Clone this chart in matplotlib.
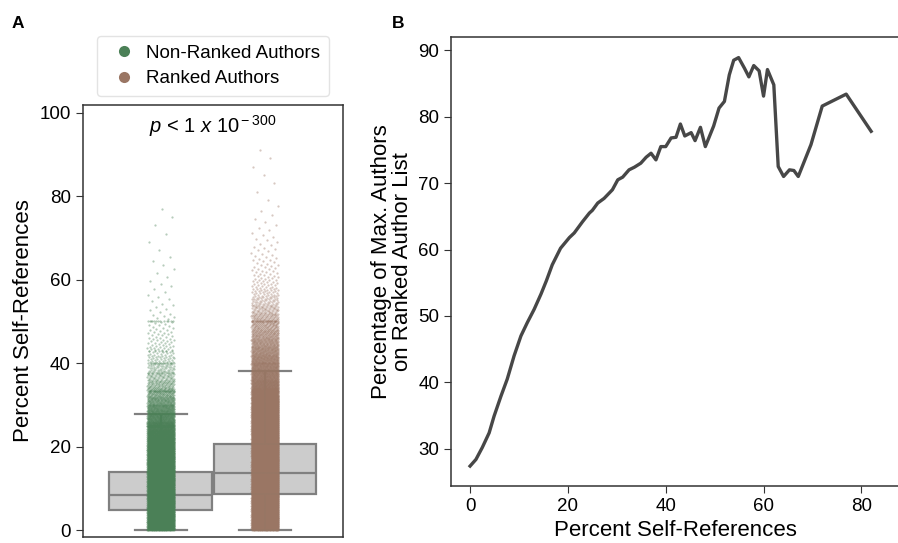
import numpy as np
import matplotlib
matplotlib.use("Agg")
import matplotlib.pyplot as plt
from matplotlib.lines import Line2D

plt.rcParams['font.family'] = ['Liberation Sans', 'DejaVu Sans']
plt.rcParams['mathtext.fontset'] = 'custom'
plt.rcParams['mathtext.rm'] = 'Liberation Sans'
plt.rcParams['mathtext.it'] = 'Liberation Sans:italic'

# ---------------- Panel A data ----------------
groups = ["Non-Ranked Authors", "Ranked Authors"]
group_colors = ["#4b8057", "#9a7664"]

# box statistics
box_q1 = [4.8, 8.6]
box_med = [8.4, 13.7]
box_q3 = [14.0, 20.6]
box_lo = [0.0, 0.0]
box_hi = [27.8, 38.2]

# histogram of self-reference percentages (2 % bins) estimated from strip density
bin_edges = list(range(0, 96, 2))
nonranked_counts = [600, 600, 600, 600, 600, 600, 600, 600, 600, 600, 550, 500,
                    420, 320, 240, 180, 130, 90, 65, 48, 34, 25, 19, 15, 11, 7, 5,
                    4, 3, 3, 2, 2, 2, 1, 1, 1, 1, 1, 1, 0, 0, 0, 0, 0, 0, 0, 0]
ranked_counts = [600, 600, 600, 600, 600, 600, 600, 600, 600, 600, 600, 600,
                 600, 600, 600, 580, 480, 400, 340, 290, 250, 210, 175, 145, 120,
                 90, 65, 45, 32, 22, 16, 12, 9, 7, 5, 4, 3, 2, 2, 1, 1, 1, 1, 1,
                 1, 1, 0]
# common fractional values showing as horizontal rows in the strips
nonranked_spike_vals = [25.0, 28.6, 30.0, 33.3, 37.5, 40.0, 42.9, 50.0]
nonranked_spike_counts = [30, 8, 10, 18, 6, 12, 5, 12]
ranked_spike_vals = [33.3, 40.0, 50.0]
ranked_spike_counts = [25, 14, 25]

# ---------------- Panel B data ----------------
pct_self_refs = [0, 1.2, 2.5, 3.9, 4.9, 6.3, 7.6, 9.0, 10.4, 11.7, 13.1, 14.5,
                 15.6, 16.8, 18.5, 20.3, 21.3, 23.0, 24.4, 25.0, 26.1, 27.4,
                 29.1, 30.2, 31.2, 32.5, 33.6, 34.9, 36.0, 37.0, 38.0, 39.0,
                 40.0, 41.1, 42.1, 43.0, 43.9, 45.2, 46.0, 47.1, 48.1, 49.8,
                 50.9, 52.0, 53.0, 53.9, 54.9, 56.1, 57.0, 58.0, 59.1, 60.0,
                 60.8, 62.1, 63.0, 64.1, 65.3, 66.2, 67.1, 69.7, 72.0, 76.9,
                 82.0]
pct_max_authors = [27.4, 28.4, 30.2, 32.4, 34.9, 37.9, 40.5, 44.0, 47.0, 49.0,
                   51.0, 53.3, 55.3, 57.7, 60.2, 61.8, 62.5, 64.2, 65.5, 65.9,
                   67.0, 67.7, 69.0, 70.5, 70.9, 72.0, 72.4, 73.0, 73.9, 74.5,
                   73.5, 75.5, 75.5, 76.8, 76.9, 78.9, 77.1, 77.6, 76.4, 78.4,
                   75.5, 78.6, 81.3, 82.3, 86.3, 88.5, 88.9, 87.3, 86.0, 87.7,
                   86.9, 83.1, 87.1, 84.8, 72.5, 71.0, 72.0, 71.9, 71.0, 75.8,
                   81.6, 83.4, 77.8]


def expand(counts, spike_vals, spike_counts):
    vals = []
    for lo, n in zip(bin_edges, counts):
        if n > 0:
            vals.extend(lo + (np.arange(n) + 0.5) / n * 2.0)
    for v, n in zip(spike_vals, spike_counts):
        vals.extend([v] * n)
    return np.asarray(vals)


W, H = 898, 543
fig = plt.figure(figsize=(W / 100, H / 100), dpi=100)

# ---------------- Panel A ----------------
axA = fig.add_axes([82.7 / W, 1 - 536.7 / H, 260.3 / W, (536.7 - 105) / H])
positions = [-0.2, 0.2]
stats = []
for i in range(2):
    stats.append(dict(med=box_med[i], q1=box_q1[i], q3=box_q3[i],
                      whislo=box_lo[i], whishi=box_hi[i], fliers=[]))
axA.bxp(stats, positions=positions, widths=0.395, capwidths=0.2,
        showfliers=False, patch_artist=True,
        boxprops=dict(facecolor="#cccccc", edgecolor="#808080", linewidth=1.6),
        medianprops=dict(color="#808080", linewidth=1.6),
        whiskerprops=dict(color="#808080", linewidth=1.6),
        capprops=dict(color="#808080", linewidth=1.6), zorder=1)

golden = 0.6180339887
all_counts = [(nonranked_counts, nonranked_spike_vals, nonranked_spike_counts),
              (ranked_counts, ranked_spike_vals, ranked_spike_counts)]
for i, (c, sv, sc) in enumerate(all_counts):
    vals = expand(c, sv, sc)
    k = np.arange(len(vals))
    jit = ((k * golden + 0.31 * i) % 1.0) * 2 - 1
    xs = positions[i] + jit * 0.052
    axA.scatter(xs, vals, s=2.6, color=group_colors[i], alpha=0.4,
                linewidths=0, zorder=2, rasterized=True)

axA.set_xlim(-0.5, 0.5)
axA.set_ylim(-1.6, 101.8)
axA.set_xticks([])
axA.set_yticks([0, 20, 40, 60, 80, 100])
axA.set_ylabel("Percent Self-References", fontsize=16)
axA.tick_params(axis='y', labelsize=13.5, length=5, color="#333333")
for sp in axA.spines.values():
    sp.set_color("#333333")
    sp.set_linewidth(1.1)
axA.text(0, 95.2, r"$p$ < 1 $x$ 10$^{\rm -300}$", ha="center", va="baseline",
         fontsize=14.5)

handles = [Line2D([], [], marker="o", linestyle="none", markersize=8,
                  markerfacecolor=group_colors[i], markeredgecolor="none",
                  label=groups[i]) for i in range(2)]
axA.legend(handles=handles, loc="lower center", bbox_to_anchor=(0.5, 1.0),
           fontsize=13.5, frameon=True, handletextpad=0.2, borderpad=0.45,
           labelspacing=0.45, edgecolor="#dddddd")

# ---------------- Panel B ----------------
axB = fig.add_axes([451 / W, 1 - 486 / H, (W - 451 + 2) / W, (486 - 37) / H])
axB.plot(pct_self_refs, pct_max_authors, color="#474747", linewidth=2.4)
axB.set_xlim(-3.9, 87.9)
axB.set_ylim(24.4, 92.0)
axB.set_xticks([0, 20, 40, 60, 80])
axB.set_yticks([30, 40, 50, 60, 70, 80, 90])
axB.set_xlabel("Percent Self-References", fontsize=16)
axB.set_ylabel("Percentage of Max. Authors\non Ranked Author List", fontsize=16,
               linespacing=1.0)
axB.tick_params(labelsize=13.5, length=5, color="#333333")
axB.spines['right'].set_visible(False)
for sp in axB.spines.values():
    sp.set_color("#333333")
    sp.set_linewidth(1.1)

fig.text(17.5 / W, 1 - 24 / H, "A", fontsize=12.5, fontweight="bold",
         ha="center", va="center")
fig.text(398 / W, 1 - 24 / H, "B", fontsize=12.5, fontweight="bold",
         ha="center", va="center")

fig.savefig("out.png", dpi=100)
